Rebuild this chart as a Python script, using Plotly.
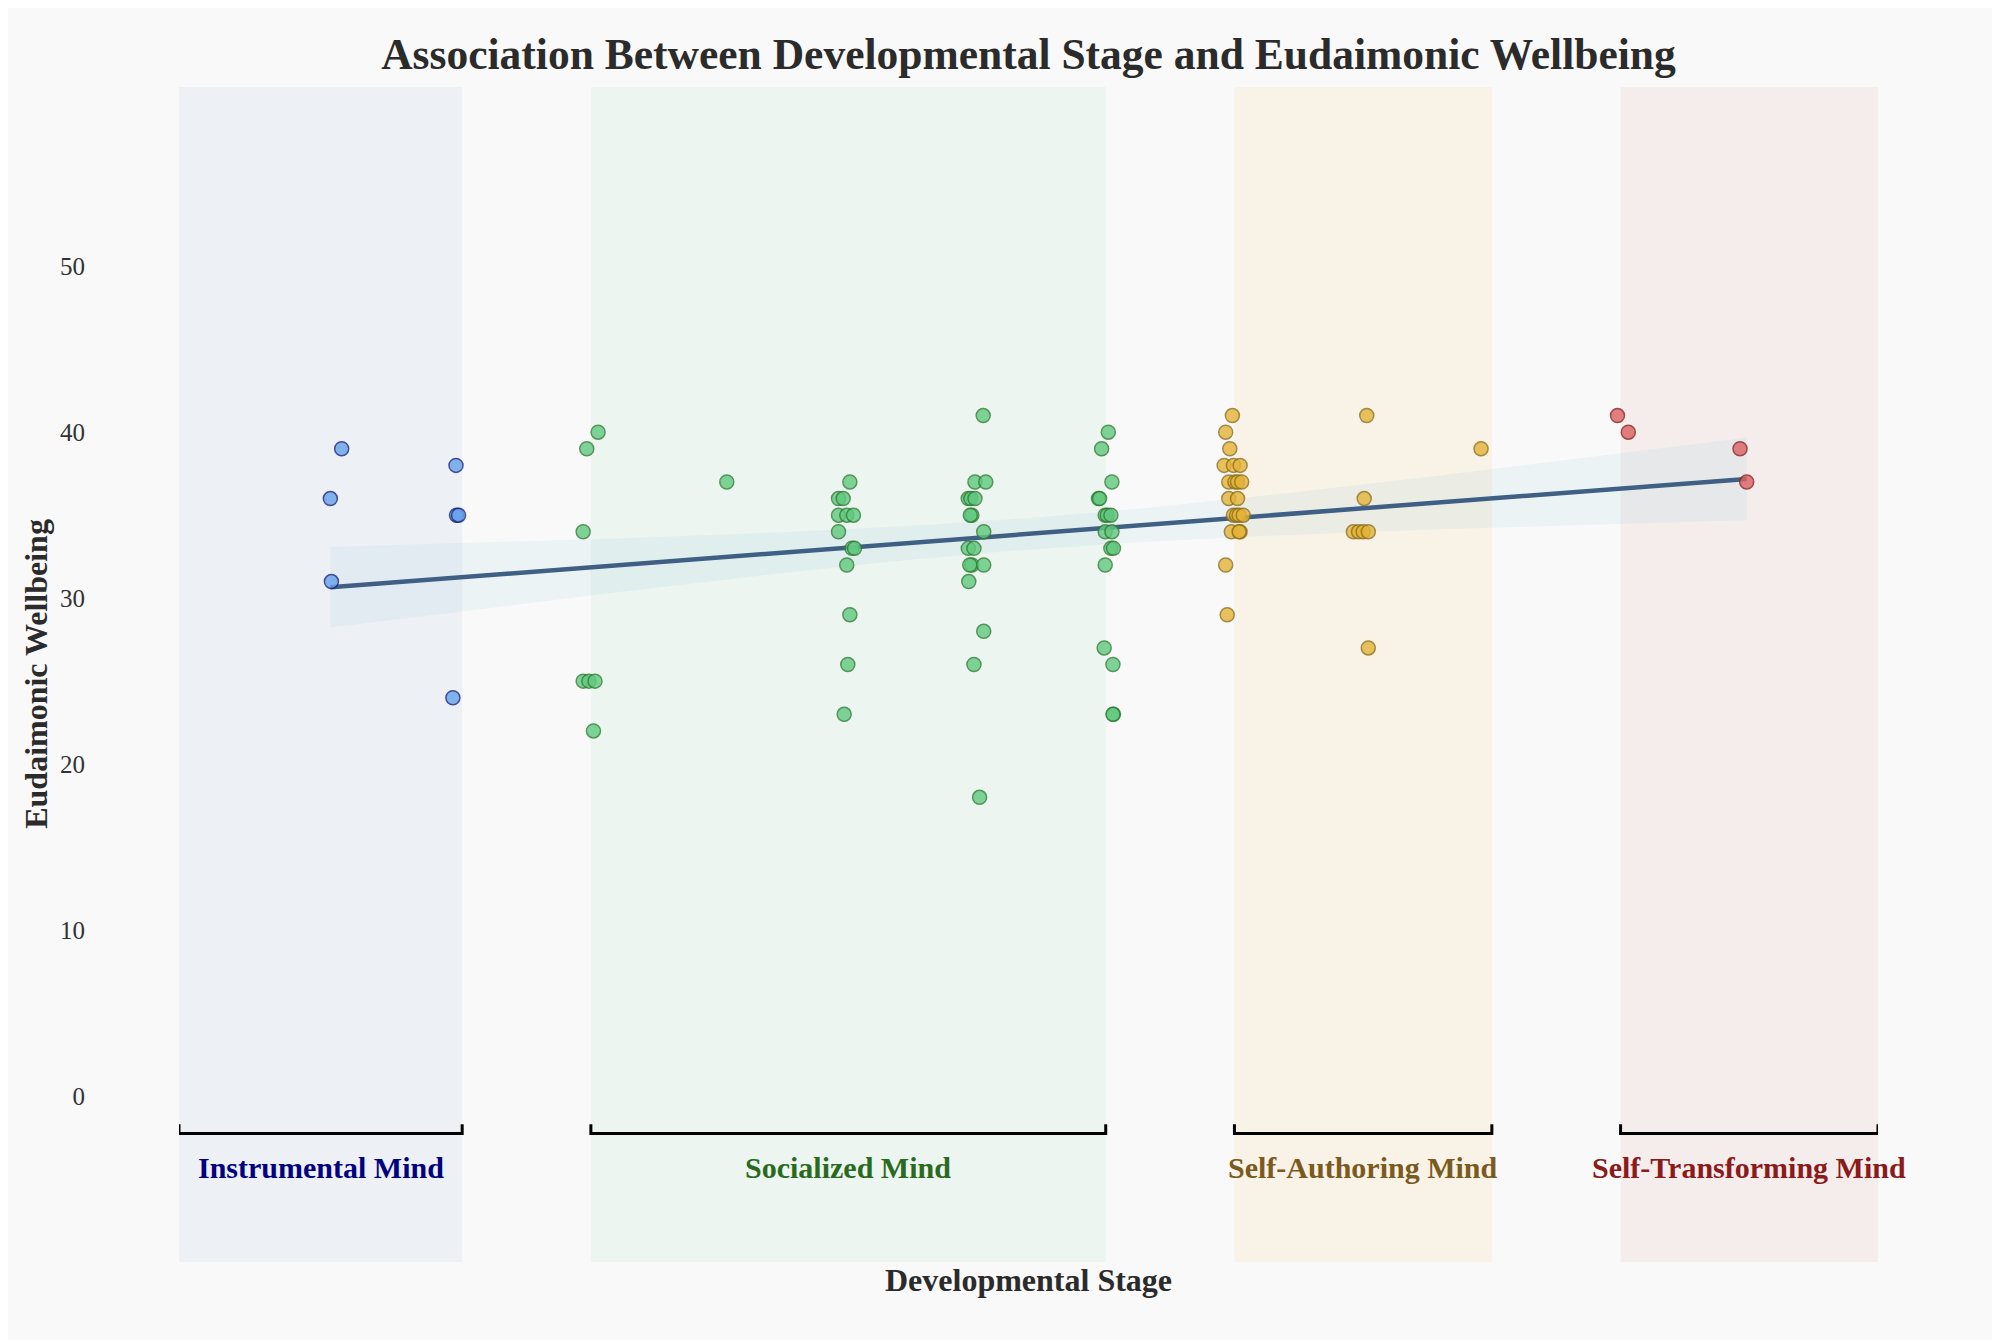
import numpy as np
import plotly.graph_objects as go

# ---------------- data ----------------
stage_names = ["Instrumental Mind", "Socialized Mind", "Self-Authoring Mind", "Self-Transforming Mind"]
band_x0 = [1.7, 2.5, 3.75, 4.5]
band_x1 = [2.25, 3.5, 4.25, 5.0]

# jittered developmental-stage scores and wellbeing scores
instrumental_x = [2.016, 1.994, 1.996, 2.238, 2.239, 2.243, 2.232]
instrumental_y = [39, 36, 31, 38, 35, 35, 24]

socialized_x = [2.514, 2.492, 2.485, 2.485, 2.496, 2.508, 2.505,
                2.764,
                3.003, 2.981, 2.990, 2.981, 2.997, 3.010, 2.981, 3.007, 3.012, 2.997, 3.003, 2.999, 2.992,
                3.262, 3.246, 3.267, 3.233, 3.238, 3.246, 3.240, 3.237, 3.263, 3.233, 3.244, 3.240, 3.236,
                3.263, 3.234, 3.263, 3.244, 3.255,
                3.505, 3.492, 3.512, 3.486, 3.488, 3.499, 3.503, 3.510, 3.499, 3.512, 3.510, 3.515, 3.499,
                3.497, 3.514, 3.515, 3.514]
socialized_y = [40, 39, 34, 25, 25, 25, 22,
                37,
                37, 36, 36, 35, 35, 35, 34, 33, 33, 32, 29, 26, 23,
                41, 37, 37, 36, 36, 36, 35, 35, 34, 33, 33, 32, 32,
                32, 31, 28, 26, 18,
                40, 39, 37, 36, 36, 35, 35, 35, 34, 34, 33, 33, 32,
                27, 26, 23, 23]

self_authoring_x = [3.746, 3.733, 3.741, 3.730, 3.748, 3.761, 3.739, 3.751, 3.756, 3.764,
                    3.739, 3.756, 3.748, 3.754, 3.759, 3.767, 3.744, 3.761, 3.759, 3.733, 3.736,
                    4.007, 4.002, 3.981, 3.991, 4.000, 4.010, 4.010,
                    4.229]
self_authoring_y = [41, 40, 39, 38, 38, 38, 37, 37, 37, 37,
                    36, 36, 35, 35, 35, 35, 34, 34, 34, 32, 29,
                    41, 36, 34, 34, 34, 34, 27,
                    39]

self_transforming_x = [4.494, 4.515, 4.732, 4.745]
self_transforming_y = [41, 40, 39, 37]

fill_colors = ["#64a2ec", "#61c97f", "#e4b437", "#dc6161"]
edge_colors = ["#1a237e", "#2e7d32", "#8d6e1a", "#8b1e1e"]
band_colors = ["#edf0f5", "#ecf5f0", "#f9f2e6", "#f5ecec"]
label_colors = ["#000080", "#2a6a1e", "#7a5a1e", "#8b1a1a"]

FONT = "Liberation Serif, Times New Roman, serif"

W, H = 2006, 1340
L, R, T, B = 179, 1878, 87, 1262          # plot area in page pixels
PW, PH = R - L, B - T

groups_x = [instrumental_x, socialized_x, self_authoring_x, self_transforming_x]
groups_y = [instrumental_y, socialized_y, self_authoring_y, self_transforming_y]

fig = go.Figure()

# light page panel (inset 8px like the reference)
fig.add_shape(type="rect", xref="paper", yref="paper",
              x0=(8 - L) / PW, x1=(1992 - L) / PW, y0=(B - H - 20) / PH, y1=(B - 8) / PH,
              fillcolor="#f9f9f9", line=dict(width=0), layer="below")

# background bands, brackets and labels
for i, name in enumerate(stage_names):
    fig.add_shape(type="rect", xref="x", yref="paper", x0=band_x0[i], x1=band_x1[i], y0=0, y1=1,
                  fillcolor=band_colors[i], line=dict(width=0), layer="below")
    fig.add_shape(type="path", xref="x", yref="y",
                  path=f"M {band_x0[i]},-1.7 L {band_x0[i]},-2.25 L {band_x1[i]},-2.25 L {band_x1[i]},-1.7",
                  line=dict(color="black", width=3))
    fig.add_annotation(x=(band_x0[i] + band_x1[i]) / 2, y=-4.3, xref="x", yref="y",
                       text=f"<b>{name}</b>", showarrow=False,
                       font=dict(family=FONT, size=30, color=label_colors[i]))

# regression line with 95% CI
all_x = np.concatenate([np.array(g, dtype=float) for g in groups_x])
all_y = np.concatenate([np.array(g, dtype=float) for g in groups_y])
n = len(all_x)
slope, intercept = np.polyfit(all_x, all_y, 1)
xs = np.linspace(all_x.min(), all_x.max(), 100)
ys = intercept + slope * xs
resid = all_y - (intercept + slope * all_x)
s = np.sqrt(np.sum(resid ** 2) / (n - 2))
sxx = np.sum((all_x - all_x.mean()) ** 2)
se = s * np.sqrt(1.0 / n + (xs - all_x.mean()) ** 2 / sxx)
tcrit = 1.986
upper = ys + tcrit * se
lower = ys - tcrit * se

fig.add_trace(go.Scatter(x=np.concatenate([xs, xs[::-1]]), y=np.concatenate([upper, lower[::-1]]),
                         fill="toself", fillcolor="rgba(173,216,230,0.18)", line=dict(width=0),
                         hoverinfo="skip", showlegend=False))
fig.add_trace(go.Scatter(x=xs, y=ys, mode="lines", line=dict(color="#3f5f85", width=4.5), showlegend=False))

for i, name in enumerate(stage_names):
    fig.add_trace(go.Scatter(x=groups_x[i], y=groups_y[i], mode="markers", name=name, showlegend=False,
                             marker=dict(size=14, color=fill_colors[i], opacity=0.8,
                                         line=dict(color=edge_colors[i], width=1.5))))

fig.update_layout(
    width=W, height=H,
    margin=dict(l=L, r=W - R, t=T, b=H - B),
    paper_bgcolor="#ffffff", plot_bgcolor="rgba(0,0,0,0)",
    title=dict(text="<b>Association Between Developmental Stage and Eudaimonic Wellbeing</b>",
               x=0.5, xref="paper", xanchor="center", y=1 - 54 / H, yref="container", yanchor="middle",
               font=dict(family=FONT, size=43.5, color="#2b2b2b")),
    showlegend=False,
)
fig.update_xaxes(range=[1.7, 5.0], showgrid=False, zeroline=False, showticklabels=False, showline=False,
                 ticks="")
fig.update_yaxes(range=[-10, 60.8], tickvals=[0, 10, 20, 30, 40, 50], showgrid=False, zeroline=False,
                 showline=False, ticks="", ticklabelstandoff=93,
                 tickfont=dict(family=FONT, size=25, color="#333333"))

fig.add_annotation(x=0.5, y=-(1280.5 - B) / PH, xref="paper", yref="paper",
                   text="<b>Developmental Stage</b>", showarrow=False, yanchor="middle",
                   font=dict(family=FONT, size=32, color="#2b2b2b"))
fig.add_annotation(x=(35.8 - L) / PW, y=(B - 674) / PH, xref="paper", yref="paper", textangle=-90,
                   text="<b>Eudaimonic Wellbeing</b>", showarrow=False, xanchor="center", yanchor="middle",
                   font=dict(family=FONT, size=32, color="#2b2b2b"))

fig.write_html("out.html")
